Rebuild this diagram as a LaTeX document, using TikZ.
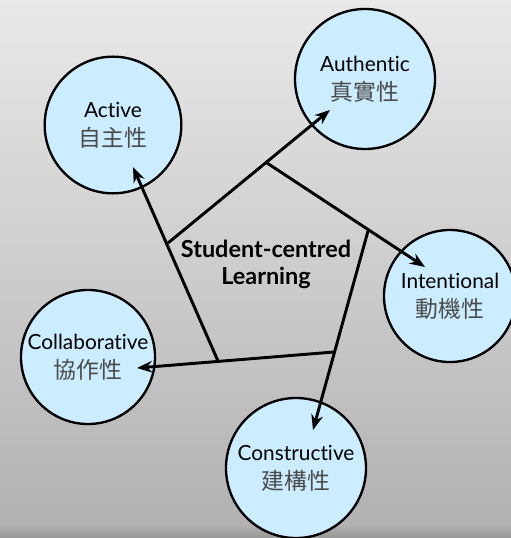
\documentclass[tikz,border=0pt]{standalone}
\usepackage{fontspec}
\setmainfont{Lato}[Ligatures=NoCommon]
\newfontfamily\cjk{Noto Sans CJK TC}
\usetikzlibrary{arrows.meta,calc}
\definecolor{bubble}{RGB}{204,236,255}
\definecolor{bgtop}{RGB}{233,233,233}
\definecolor{bgbot}{RGB}{178,178,178}
\definecolor{bgedge}{RGB}{150,150,150}
\definecolor{hanzi}{RGB}{75,75,75}
\tikzset{
  trait/.style={circle, draw=black, line width=2pt, fill=bubble, inner sep=0pt,
    minimum size=4.1cm, align=center, font=\fontsize{17.8}{25}\selectfont},
  spoke/.style={line width=2.5pt, -{Stealth[length=13pt,width=10pt]}},
}
\newcommand{\zh}[1]{{\cjk\color{hanzi}\fontsize{19.5}{25}\selectfont #1}}

\begin{document}
\begin{tikzpicture}[x=0.03cm, y=-0.03cm]
    % Background
    \useasboundingbox (0,0) rectangle (511,538);
    \clip (0,0) rectangle (511,538);
    \shade[top color=bgtop, bottom color=bgbot] (0,0) rectangle (511,525);
    \shade[top color=bgbot, bottom color=bgedge] (0,525) rectangle (511,538);

    % Circles
    \node[trait] (act) at (113,125) {Active\\\zh{自主性}};
    \node[trait, minimum size=4.2cm] (aut) at (365,79) {Authentic\\\zh{真實性}};
    \node[trait, minimum size=3.96cm] (int) at (450,296) {Intentional\\\zh{動機性}};
    \node[trait, minimum size=4.02cm] (col) at (88,357) {Collaborative\\\zh{協作性}};
    \node[trait, minimum size=4.2cm] (con) at (296,468) {Constructive\\\zh{建構性}};

    % Pentagon corners
    \coordinate (p1) at (218,361);
    \coordinate (p2) at (168,243);
    \coordinate (p3) at (267,163);
    \coordinate (p4) at (368,231);
    \coordinate (p5) at (334,352);

    % Arrow ends
    \coordinate (e1) at (133,167);
    \coordinate (e2) at (330,110);
    \coordinate (e3) at (425,267);
    \coordinate (e4) at (313,430);
    \coordinate (e5) at (137,368);

    % Spokes
    \draw[spoke] (p1) -- (e1);
    \draw[spoke] (p2) -- (e2);
    \draw[spoke] (p3) -- (e3);
    \draw[spoke] (p4) -- (e4);
    \draw[spoke] (p5) -- (e5);

    % Centre
    \node[align=center, font=\bfseries\fontsize{20}{23}\selectfont] (scl) at (266,264) {Student-centred\\Learning};
\end{tikzpicture}
\end{document}
